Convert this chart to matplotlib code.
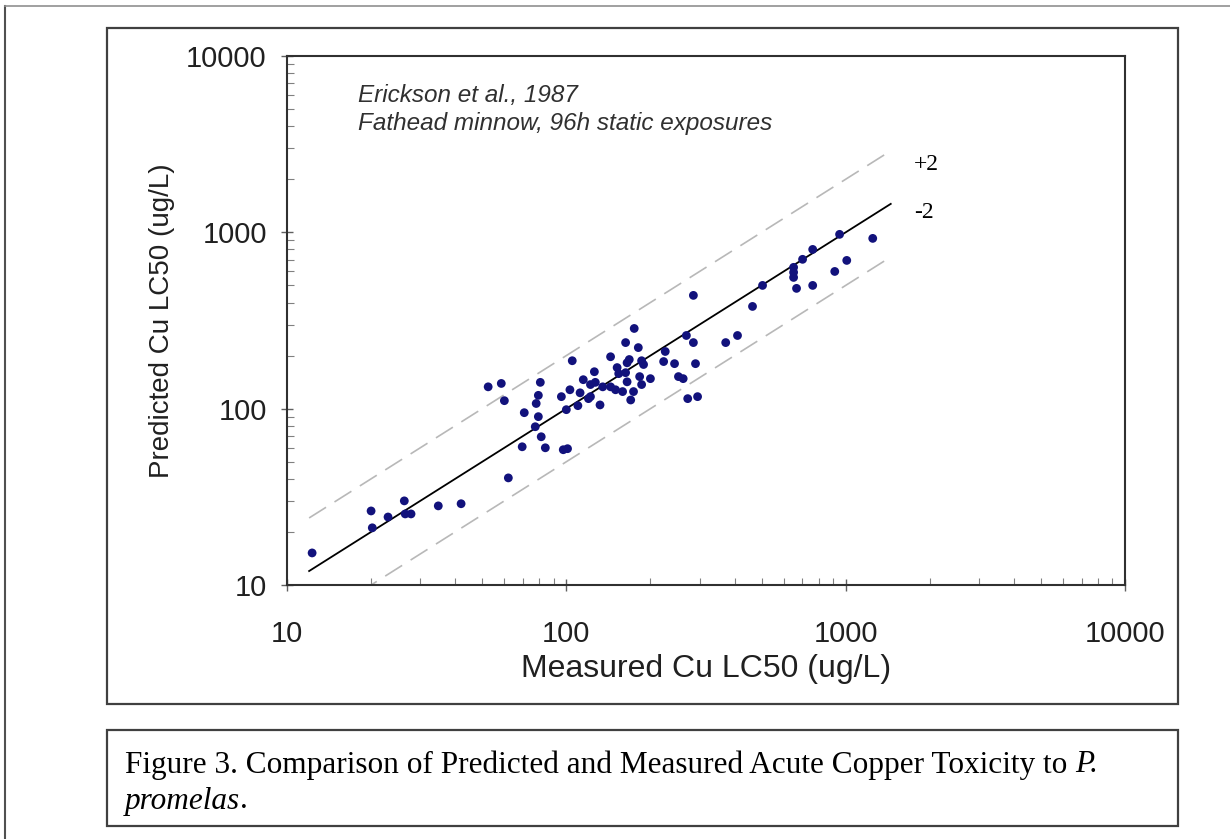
import matplotlib
matplotlib.use('Agg')
import matplotlib.pyplot as plt
from matplotlib.patches import Rectangle
from matplotlib.lines import Line2D
from matplotlib.ticker import LogLocator, FixedLocator, NullFormatter

# measured vs predicted Cu LC50 (ug/L)
measured = [12.3, 20.0, 20.2, 23.0, 26.3, 26.5, 27.8, 34.8, 42.0, 62.0,
            52.5, 58.5, 60.0, 69.5, 70.7, 77.4, 78.0, 79.4, 79.4, 80.7,
            81.3, 84.1, 97.5, 101, 96.0, 100, 103, 105, 110, 112,
            115, 120, 126, 132, 144, 122, 127, 135, 144, 150,
            152, 154, 159, 163, 163, 165, 165, 168, 170, 174,
            175, 181, 183, 186, 186, 189, 200, 122, 226, 223,
            244, 252, 262, 269, 285, 290, 272, 295, 285, 372,
            410, 464, 504, 651, 651, 651, 667, 701, 762, 762,
            914, 1009, 951, 1250]
predicted = [15.2, 26.3, 21.1, 24.3, 30.0, 25.3, 25.3, 28.1, 28.9, 40.5,
             133, 139, 111, 60.8, 94.9, 79.0, 107, 119, 90.1, 141,
             69.3, 60.0, 58.5, 59.3, 117, 98.7, 128, 187, 104, 123,
             146, 114, 162, 105, 197, 137, 141, 133, 133, 128,
             171, 158, 125, 237, 160, 182, 142, 190, 112, 125,
             285, 222, 152, 187, 137, 178, 148, 117, 211, 185,
             180, 152, 148, 260, 237, 180, 114, 117, 439, 237,
             260, 380, 500, 633, 593, 555, 481, 703, 800, 500,
             600, 693, 974, 924]

# 1:1 line and factor-of-two bounds
line_x = [12, 1450]
factor_hi = 2.0
factor_lo = 0.5

axis_ticks = [10, 100, 1000, 10000]
tick_labels = ['10', '100', '1000', '10000']

plt.rcParams['font.family'] = ['Liberation Sans', 'DejaVu Sans']

fig = plt.figure(figsize=(12.3, 8.39), dpi=100)
W, H = 1230.0, 839.0

def fx(px):
    return px / W

def fy(py):
    return 1 - py / H

# page edges (top and left) and the two boxes
fig.add_artist(Line2D([fx(5), fx(5)], [fy(839), fy(6)], color='#505050', lw=1.5))
fig.add_artist(Line2D([fx(5), 1], [fy(6), fy(6)], color='#909090', lw=1.2))
fig.add_artist(Rectangle((fx(107), fy(704)), fx(1178) - fx(107), fy(28) - fy(704),
                         fill=False, ec='#404040', lw=1.6))
fig.add_artist(Rectangle((fx(107), fy(826)), fx(1178) - fx(107), fy(730) - fy(826),
                         fill=False, ec='#404040', lw=1.6))

ax = fig.add_axes([fx(287), fy(585), fx(1125) - fx(287), fy(56) - fy(585)])
ax.set_xscale('log')
ax.set_yscale('log')
ax.set_xlim(10, 10000)
ax.set_ylim(10, 10000)

lx = line_x
ax.plot(lx, [v * factor_hi for v in lx], color='#b8b8b8', lw=1.2, dashes=(12, 6))
ax.plot(lx, [v * factor_lo for v in lx], color='#b8b8b8', lw=1.2, dashes=(12, 6))
ax.plot(lx, lx, color='black', lw=1.3)
ax.scatter(measured, predicted, s=40, color='#12127c', edgecolors='none', zorder=3)

ax.xaxis.set_major_locator(FixedLocator(axis_ticks))
ax.yaxis.set_major_locator(FixedLocator(axis_ticks))
ax.set_xticklabels(tick_labels)
ax.set_yticklabels(tick_labels)
ax.xaxis.set_minor_locator(LogLocator(base=10, subs=range(2, 10)))
ax.yaxis.set_minor_locator(LogLocator(base=10, subs=range(2, 10)))
ax.xaxis.set_minor_formatter(NullFormatter())
ax.yaxis.set_minor_formatter(NullFormatter())
ax.tick_params(which='major', direction='inout', length=9, width=1, color='#606060',
               labelsize=21, labelcolor='#202020')
ax.tick_params(axis='x', which='major', pad=21)
ax.tick_params(axis='y', which='major', pad=10)
ax.tick_params(which='minor', direction='in', length=5, width=0.8, color='#808080')
for s in ax.spines.values():
    s.set_color('#303030')
    s.set_linewidth(1.5)

ax.set_xlabel('Measured Cu LC50 (ug/L)', fontsize=23, color='#202020', labelpad=4)
ax.set_ylabel('Predicted Cu LC50 (ug/L)', fontsize=20, color='#202020', labelpad=8)

ax.text(0.085, 0.925, 'Erickson et al., 1987', transform=ax.transAxes,
        fontsize=17.5, style='italic', color='#303030', va='center')
ax.text(0.085, 0.873, 'Fathead minnow, 96h static exposures', transform=ax.transAxes,
        fontsize=17.5, style='italic', color='#303030', va='center')

fig.text(fx(914), fy(165), '+2', fontsize=17, family='Liberation Serif', va='center')
fig.text(fx(914), fy(213), '-2', fontsize=17, family='Liberation Serif', va='center')

cap = fig.text(fx(125), fy(765),
               'Figure 3. Comparison of Predicted and Measured Acute Copper Toxicity to ',
               fontsize=22.5, family='Liberation Serif', va='center')
fig.canvas.draw()
bb = cap.get_window_extent()
fig.text(bb.x1 / W, fy(765), 'P.', fontsize=22.5, family='Liberation Serif',
         style='italic', va='center')
it = fig.text(fx(125), fy(801), 'promelas', fontsize=22.5, family='Liberation Serif',
              style='italic', va='center')
fig.canvas.draw()
bb2 = it.get_window_extent()
fig.text(bb2.x1 / W, fy(801), '.', fontsize=22.5, family='Liberation Serif', va='center')

fig.savefig('out.png', dpi=100)
